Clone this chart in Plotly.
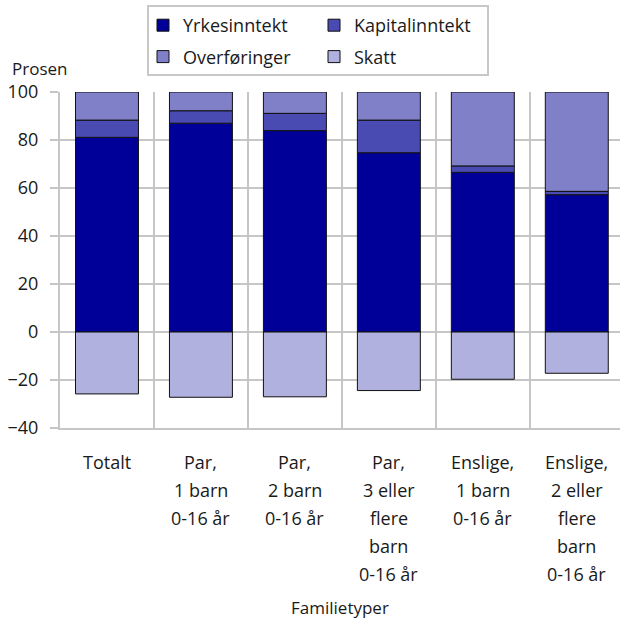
import plotly.graph_objects as go

categories = ["Totalt", "Par, 1 barn 0-16 år", "Par, 2 barn 0-16 år",
              "Par, 3 eller flere barn 0-16 år", "Enslige, 1 barn 0-16 år",
              "Enslige, 2 eller flere barn 0-16 år"]
label_lines = [["Totalt"],
               ["Par,", "1 barn", "0-16 år"],
               ["Par,", "2 barn", "0-16 år"],
               ["Par,", "3 eller", "flere", "barn", "0-16 år"],
               ["Enslige,", "1 barn", "0-16 år"],
               ["Enslige,", "2 eller", "flere", "barn", "0-16 år"]]

yrkesinntekt = [81.1, 87.0, 83.9, 74.7, 66.5, 57.2]
kapitalinntekt = [7.2, 5.2, 7.2, 13.6, 2.7, 1.4]
overforinger = [11.7, 7.8, 8.9, 11.7, 30.8, 41.4]
skatt = [-25.8, -27.2, -27.0, -24.4, -19.7, -17.2]

series = [("Yrkesinntekt", yrkesinntekt, "#000099", "legend"),
          ("Kapitalinntekt", kapitalinntekt, "#4a4ab3", "legend2"),
          ("Overføringer", overforinger, "#8080c9", "legend"),
          ("Skatt", skatt, "#b1b1df", "legend2")]

FONT = "Open Sans"
GRID = "#c6c6c6"
TXT = "#1a1a1a"
W, H = 620, 619
ML, MR, MT, MB = 60, 0, 92, 191
PH = H - MT - MB

fig = go.Figure()
for name, vals, col, leg in series:
    fig.add_trace(go.Bar(x=categories, y=vals, name=name, legend=leg,
                         legendgroup=name,
                         marker=dict(color=col, line=dict(color="#111111", width=1))))

annotations = []
for i, lines in enumerate(label_lines):
    for j, t in enumerate(lines):
        annotations.append(dict(x=categories[i], xref="x", y=0, yref="paper",
                                text=t, showarrow=False, yanchor="middle",
                                xanchor="center", yshift=-(34 + 28 * j),
                                font=dict(family=FONT, size=18, color=TXT)))
annotations.append(dict(x=0.5, xref="paper", y=0, yref="paper", text="Familietyper",
                        showarrow=False, yanchor="middle", xanchor="center",
                        yshift=-179, font=dict(family=FONT, size=17, color=TXT)))
annotations.append(dict(x=-50 / 560, xref="paper", y=1, yref="paper", text="Prosen",
                        showarrow=False, yanchor="middle", xanchor="left",
                        yshift=24, font=dict(family=FONT, size=17, color=TXT)))

leg_common = dict(orientation="v", yref="container", y=1 - 7 / H, yanchor="top",
                  xref="container", xanchor="left", tracegroupgap=5,
                  bgcolor="rgba(0,0,0,0)", borderwidth=0,
                  font=dict(family=FONT, size=18, color=TXT))

fig.update_layout(
    width=W, height=H,
    margin=dict(l=ML, r=MR, t=MT, b=MB, autoexpand=False),
    barmode="relative", bargap=0.33,
    plot_bgcolor="white", paper_bgcolor="white",
    font=dict(family=FONT, size=18, color=TXT),
    showlegend=True,
    legend=dict(x=143 / W, **leg_common),
    legend2=dict(x=314 / W, **leg_common),
    shapes=[dict(type="rect", xref="paper", yref="paper",
                 x0=(148 - ML) / (W - ML - MR), x1=(488 - ML) / (W - ML - MR),
                 y0=(MT + PH - 75) / PH, y1=(MT + PH - 6) / PH,
                 line=dict(color="#c8c8c8", width=2), fillcolor="rgba(0,0,0,0)")],
    annotations=annotations,
    xaxis=dict(type="category", tickson="boundaries", showgrid=True,
               gridcolor=GRID, gridwidth=2, showticklabels=False, ticks="",
               range=[-0.5, 5.46], showline=True, linecolor=GRID, linewidth=2,
               automargin=False),
    yaxis=dict(range=[-40, 100], dtick=20, showgrid=True, gridcolor=GRID,
               gridwidth=2, zeroline=True, zerolinecolor=GRID, zerolinewidth=2,
               showline=True, linecolor=GRID, linewidth=2,
               ticks="outside", ticklen=8, tickcolor=GRID, tickwidth=2,
               ticklabelstandoff=8, automargin=False,
               tickfont=dict(family=FONT, size=18, color=TXT)),
)

fig.write_html("out.html", config={"displayModeBar": False},
               post_script="document.body.style.margin='0px';")
